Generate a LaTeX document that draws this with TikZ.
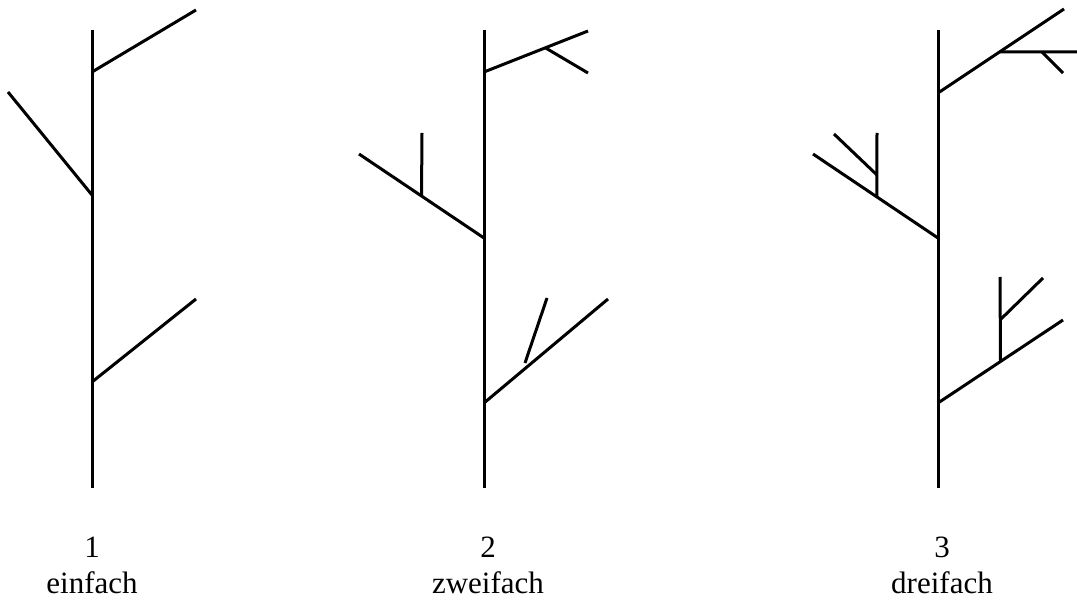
\documentclass[tikz,border=0pt]{standalone}
\usepackage{fontspec}
\setmainfont{Liberation Serif}
\usetikzlibrary{positioning, calc}
\tikzset{%
	stem/.style={line width=3pt},
	twig/.style={line width=3pt},
	caption/.style={anchor=base, inner sep=0mm, font=\fontsize{31}{36}\selectfont}
}

\begin{document}
\begin{tikzpicture}[x=1pt, y=-1pt]
	\useasboundingbox (0,0) rectangle (1077,601);

	% tree 1
	\coordinate (a0) at (92,488);
	\coordinate (a1) at (92,30);
	\coordinate (a2) at (92,72);   \coordinate (a2e) at (196,10);
	\coordinate (a3) at (92,195);  \coordinate (a3e) at (8,92);
	\coordinate (a4) at (92,382);  \coordinate (a4e) at (196,299);
	\draw[stem] (a0) -- (a1);
	\draw[twig] (a2) -- (a2e);
	\draw[twig] (a3) -- (a3e);
	\draw[twig] (a4) -- (a4e);

	% tree 2
	\coordinate (b0) at (484,488);
	\coordinate (b1) at (484,30);
	\coordinate (b2) at (484,72);  \coordinate (b2e) at (588,31);
	\coordinate (b3) at (484,238); \coordinate (b3e) at (359,154);
	\coordinate (b4) at (484,403); \coordinate (b4e) at (608,299);
	\coordinate (b2m) at ($(b2)!0.59!(b2e)$); \coordinate (b2s) at (588,73);
	\coordinate (b3m) at ($(b3)!0.5!(b3e)$);  \coordinate (b3s) at (422,133);
	\coordinate (b4m) at (525,363);           \coordinate (b4s) at (547,298);
	\draw[stem] (b0) -- (b1);
	\draw[twig] (b2) -- (b2e);
	\draw[twig] (b3) -- (b3e);
	\draw[twig] (b4) -- (b4e);
	\draw[twig] (b2m) -- (b2s);
	\draw[twig] (b3m) -- (b3s);
	\draw[twig] (b4m) -- (b4s);

	% tree 3
	\coordinate (c0) at (938,488);
	\coordinate (c1) at (938,30);
	\coordinate (c2) at (938,93);  \coordinate (c2e) at (1064,9);
	\coordinate (c3) at (938,238); \coordinate (c3e) at (813,154);
	\coordinate (c4) at (938,403); \coordinate (c4e) at (1063,320);
	\coordinate (c2m) at ($(c2)!0.49!(c2e)$);  \coordinate (c2s) at (1077,52);
	\coordinate (c3m) at ($(c3)!0.49!(c3e)$);  \coordinate (c3s) at (877,133);
	\coordinate (c4m) at ($(c4)!0.5!(c4e)$);   \coordinate (c4s) at (1000,277);
	\coordinate (c2n) at (1042,52);  \coordinate (c2t) at (1063,73);
	\coordinate (c3n) at (877,175);  \coordinate (c3t) at (834,134);
	\coordinate (c4n) at (1000,320); \coordinate (c4t) at (1043,278);
	\draw[stem] (c0) -- (c1);
	\draw[twig] (c2) -- (c2e);
	\draw[twig] (c3) -- (c3e);
	\draw[twig] (c4) -- (c4e);
	\draw[twig] (c2m) -- (c2s);
	\draw[twig] (c3m) -- (c3s);
	\draw[twig] (c4m) -- (c4s);
	\draw[twig] (c2n) -- (c2t);
	\draw[twig] (c3n) -- (c3t);
	\draw[twig] (c4n) -- (c4t);

	% captions
	\node[caption] (n1) at (92,557)  {1};
	\node[caption] (w1) at (92,593)  {einfach};
	\node[caption] (n2) at (488,557) {2};
	\node[caption] (w2) at (488,593) {zweifach};
	\node[caption] (n3) at (942,557) {3};
	\node[caption] (w3) at (942,593) {dreifach};
\end{tikzpicture}
\end{document}
